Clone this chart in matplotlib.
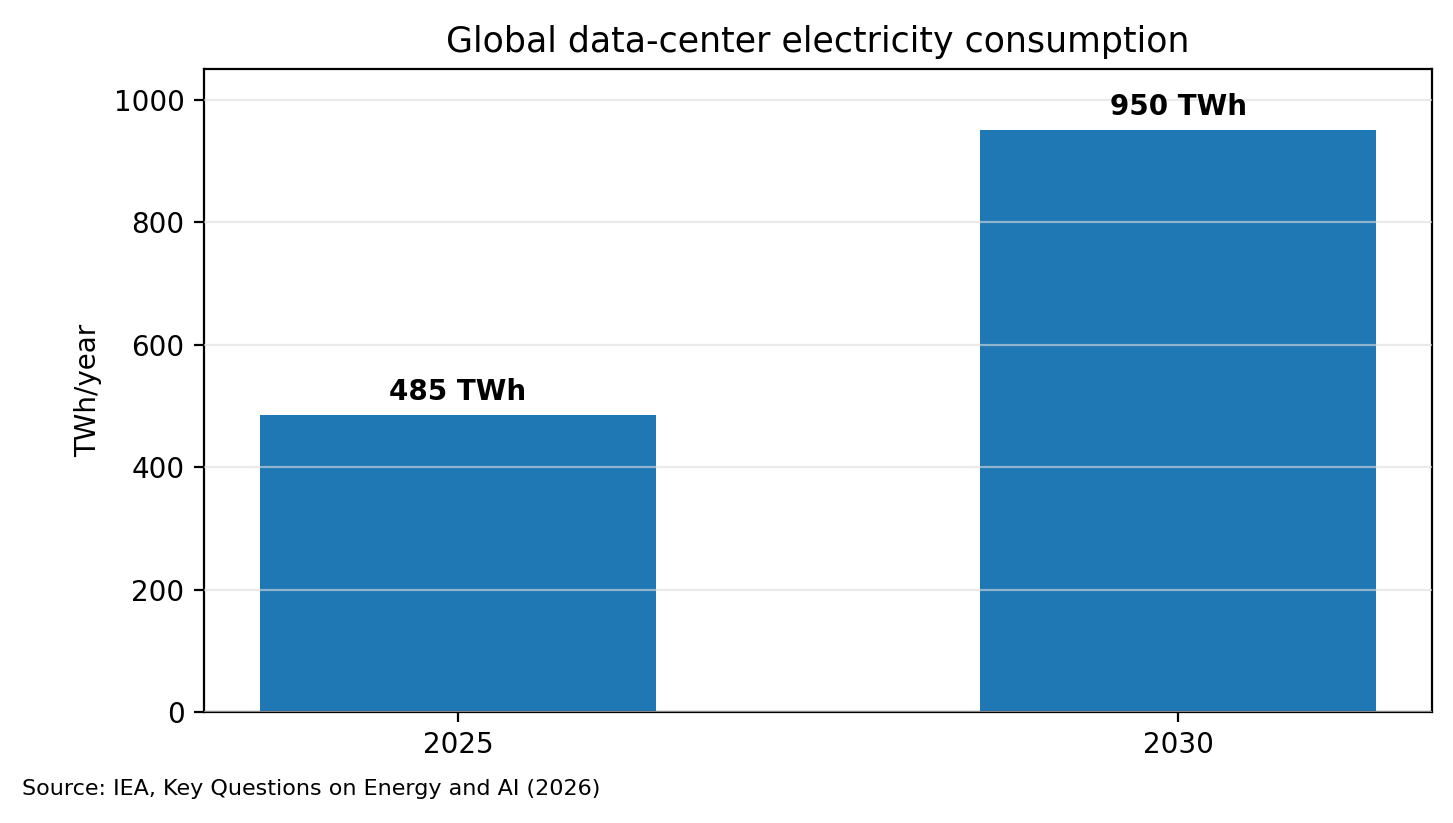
import matplotlib
matplotlib.use("Agg")
import matplotlib.pyplot as plt

years = ["2025", "2030"]
values = [485, 950]
labels = ["485 TWh", "950 TWh"]

fig = plt.figure(figsize=(7.265, 4.115), dpi=200)
ax = fig.add_axes([204/1453, 1-712/823, (1432-204)/1453, (712-69)/823])
x = range(len(years))
ax.bar(x, values, width=0.55, color="#1f77b4", zorder=2)
for xi, v, l in zip(x, values, labels):
    ax.text(xi, v + 15, l, ha="center", va="bottom", fontweight="bold", fontsize=10)
ax.set_xticks(list(x))
ax.set_xticklabels(years, fontsize=10)
ax.tick_params(axis="y", labelsize=10)
ax.set_ylim(0, 1050)
ax.set_ylabel("TWh/year", fontsize=10)
ax.yaxis.grid(True, color="#dddddd", alpha=0.6, zorder=0)
ax.set_axisbelow(False)
ax.set_title("Global data-center electricity consumption", fontsize=12.5)
fig.text(22/1453, 1-789/823, "Source: IEA, Key Questions on Energy and AI (2026)", fontsize=8, va="center")
fig.savefig("out.png", dpi=200)
